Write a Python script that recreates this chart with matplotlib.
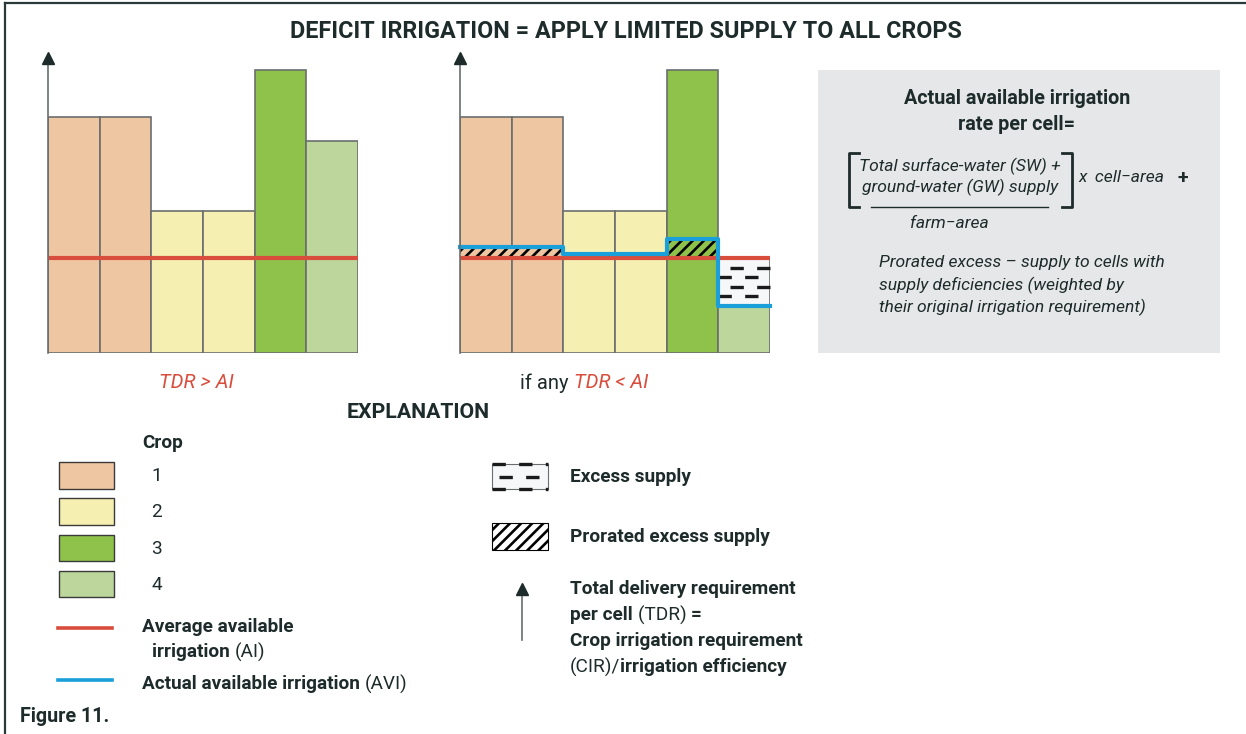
import numpy as np
import matplotlib
matplotlib.use('Agg')
import matplotlib.pyplot as plt
from matplotlib.patches import Rectangle

plt.rcParams['font.family'] = ['Roboto', 'DejaVu Sans']
plt.rcParams['hatch.linewidth'] = 1.9

# data: six cells, crop number of each cell
cell_crop = [1, 1, 2, 2, 3, 4]
# total delivery requirement (TDR) per cell
tdr_left = [236, 236, 142, 142, 283, 212]
tdr_right = [236, 236, 142, 142, 283, 47]
# average available irrigation (AI)
ai = 95
# actual available irrigation (AVI) per cell, right panel
avi_right = [106, 106, 99, 99, 114, 47]

crop_labels = ['1', '2', '3', '4']
crop_colors = {1: '#efc6a2', 2: '#f5efb1', 3: '#8fc24a', 4: '#bcd69b'}

RED = '#d84d3c'
BLUE = '#199fda'
EDGE = '#6b6e6e'
INK = '#1e2b2b'
W, H = 1246, 734

fig = plt.figure(figsize=(W / 100, H / 100), dpi=100)

# overlay axes in pixel coordinates for text and legend
ov = fig.add_axes([0, 0, 1, 1])
ov.set_xlim(0, W)
ov.set_ylim(H, 0)
ov.axis('off')


def panel(left_px, tdr, avi=None):
    ax = fig.add_axes([left_px / W, (H - 353) / H, 310 / W, 300 / H])
    ax.set_xlim(0, 6)
    ax.set_ylim(0, 300)
    ax.axis('off')
    x = np.arange(len(tdr))
    cols = [crop_colors[c] for c in cell_crop]
    ax.bar(x, tdr, width=1, align='edge', color=cols, edgecolor=EDGE, linewidth=1.2, zorder=2)
    if avi is not None:
        for i in range(len(tdr)):
            if avi[i] > ai:
                # prorated excess supply
                ax.bar(i, avi[i] - ai, bottom=ai, width=1, align='edge', color=cols[i],
                       edgecolor='black', linewidth=0, hatch='///', zorder=3)
            elif tdr[i] < ai:
                # excess supply
                ax.bar(i, ai - tdr[i], bottom=tdr[i], width=1, align='edge', color='#f5f7f8',
                       edgecolor=EDGE, linewidth=1.2, zorder=3)
                rows = np.linspace(tdr[i], ai, 6)[1:-1]
                for k, yy in enumerate(rows):
                    off = 0.0 if k % 2 == 0 else 0.22
                    ax.plot([i + off, i + 1], [yy, yy], color='#1a1a1a', lw=2.4,
                            dashes=(4, 4), zorder=4, dash_capstyle='butt', clip_on=False)
    ax.plot([0, 6], [ai, ai], color=RED, lw=3, zorder=5, clip_on=False, solid_capstyle='butt')
    if avi is not None:
        xs = np.repeat(np.arange(7), 2)[1:-1]
        ys = np.repeat(avi, 2)
        ax.plot(xs, ys, color=BLUE, lw=3, zorder=6, clip_on=False)
    # vertical axis arrow
    ax.plot([0, 0], [0, 293], color=EDGE, lw=1.2, zorder=7, clip_on=False)
    ax.plot([0], [295], marker='^', ms=9, color=INK, zorder=7, clip_on=False)
    return ax


panel(48, tdr_left)
panel(460, tdr_right, avi_right)

renderer = fig.canvas.get_renderer()


def runs(x, y, pieces, size):
    # draw consecutive text pieces with different styles on one line
    for s, kw in pieces:
        t = ov.text(x, y, s, fontsize=size, va='center', ha='left', color=kw.get('color', INK),
                    fontweight=kw.get('weight', 'normal'), fontstyle=kw.get('style', 'normal'))
        x += t.get_window_extent(renderer).width
    return x


B = {'weight': 'bold'}
N = {}
FS = 13.7
IT = 12.6

# frame
ov.plot([5, W], [3, 3], color='#2b3a38', lw=1.6, clip_on=False)
ov.plot([5, 5], [3, H], color='#2b3a38', lw=1.6, clip_on=False)

ov.text(626, 31, 'DEFICIT IRRIGATION = APPLY LIMITED SUPPLY TO ALL CROPS', fontsize=16.8,
        fontweight='bold', ha='center', va='center', color=INK)

ov.text(196, 383, 'TDR > AI', fontsize=14.5, color=RED, style='italic', ha='center', va='center')
runs(520, 383, [('if any ', N), ('TDR < AI', {'color': RED, 'style': 'italic'})], 14.5)

# formula box
ov.add_patch(Rectangle((818, 70), 402, 283, facecolor='#e6e7e8', edgecolor='none'))
ov.text(1017, 99, 'Actual available irrigation', fontsize=14.2, fontweight='bold',
        ha='center', va='center', color=INK)
ov.text(1017, 125, 'rate per cell=', fontsize=14.2, fontweight='bold',
        ha='center', va='center', color=INK)
ov.plot([859, 849, 849, 859], [153, 153, 207, 207], color=INK, lw=2)
ov.plot([1062, 1072, 1072, 1062], [153, 153, 207, 207], color=INK, lw=2)
ov.plot([871, 1048], [207, 207], color=INK, lw=1)
ov.text(960, 166, 'Total surface-water (SW) +', fontsize=IT, style='italic',
        ha='center', va='center', color=INK)
ov.text(960, 187, 'ground-water (GW) supply', fontsize=IT, style='italic',
        ha='center', va='center', color=INK)
ov.text(1078, 178, 'x  cell\u2212area', fontsize=IT, style='italic', ha='left', va='center', color=INK)
ov.text(1183, 178, '+', fontsize=14, fontweight='bold', ha='center', va='center', color=INK)
ov.text(910, 223, 'farm\u2212area', fontsize=IT, style='italic', ha='left', va='center', color=INK)
for yy, s in zip([262, 285, 307], ['Prorated excess \u2013 supply to cells with',
                                    'supply deficiencies (weighted by',
                                    'their original irrigation requirement)']):
    ov.text(879, yy, s, fontsize=IT, style='italic', ha='left', va='center', color=INK)

# explanation
ov.text(418, 413, 'EXPLANATION', fontsize=15.3, fontweight='bold', ha='center', va='center', color=INK)
ov.text(142, 443, 'Crop', fontsize=FS, fontweight='bold', ha='left', va='center', color=INK)
for i, lab in enumerate(crop_labels):
    y0 = 462 + i * 36.3
    ov.add_patch(Rectangle((59, y0), 55, 26.5, facecolor=crop_colors[i + 1], edgecolor='#3a3a3a', lw=1))
    ov.text(157, y0 + 14, lab, fontsize=FS, ha='center', va='center', color=INK)

ov.plot([58, 112], [628, 628], color=RED, lw=2.6)
ov.text(142, 627, 'Average available', fontsize=FS, fontweight='bold', ha='left', va='center', color=INK)
runs(152, 652, [('irrigation ', B), ('(AI)', N)], FS)
ov.plot([58, 112], [680, 680], color=BLUE, lw=2.6)
runs(142, 684, [('Actual available irrigation ', B), ('(AVI)', N)], FS)
ov.text(20, 717, 'Figure 11.', fontsize=14.2, fontweight='bold', ha='left', va='center', color=INK)

# excess supply legend
ov.add_patch(Rectangle((492, 464), 56, 25, facecolor='#f5f7f8', edgecolor='#6b6e6e', lw=0.8))
for k, yy in enumerate([464, 477, 489]):
    off = 0 if k % 2 == 0 else 7
    ov.plot([492 + off, 548], [yy, yy], color='#1a1a1a', lw=2.4, dashes=(4, 4), dash_capstyle='butt')
ov.text(570, 477, 'Excess supply', fontsize=FS, fontweight='bold', ha='left', va='center', color=INK)
ov.add_patch(Rectangle((492, 523), 56, 27, facecolor='white', edgecolor='black', lw=0.8, hatch='///'))
ov.text(570, 537, 'Prorated excess supply', fontsize=FS, fontweight='bold', ha='left', va='center', color=INK)
ov.plot([522, 522], [640, 592], color=EDGE, lw=1.2)
ov.plot([522], [589], marker='^', ms=9, color=INK)
ov.text(570, 589, 'Total delivery requirement', fontsize=FS, fontweight='bold', ha='left', va='center', color=INK)
runs(570, 615, [('per cell ', B), ('(TDR) ', N), ('=', B)], FS)
ov.text(570, 641, 'Crop irrigation requirement', fontsize=FS, fontweight='bold', ha='left', va='center', color=INK)
runs(570, 667, [('(CIR)/', N), ('irrigation efficiency', B)], FS)

fig.savefig('out.png', dpi=100)
